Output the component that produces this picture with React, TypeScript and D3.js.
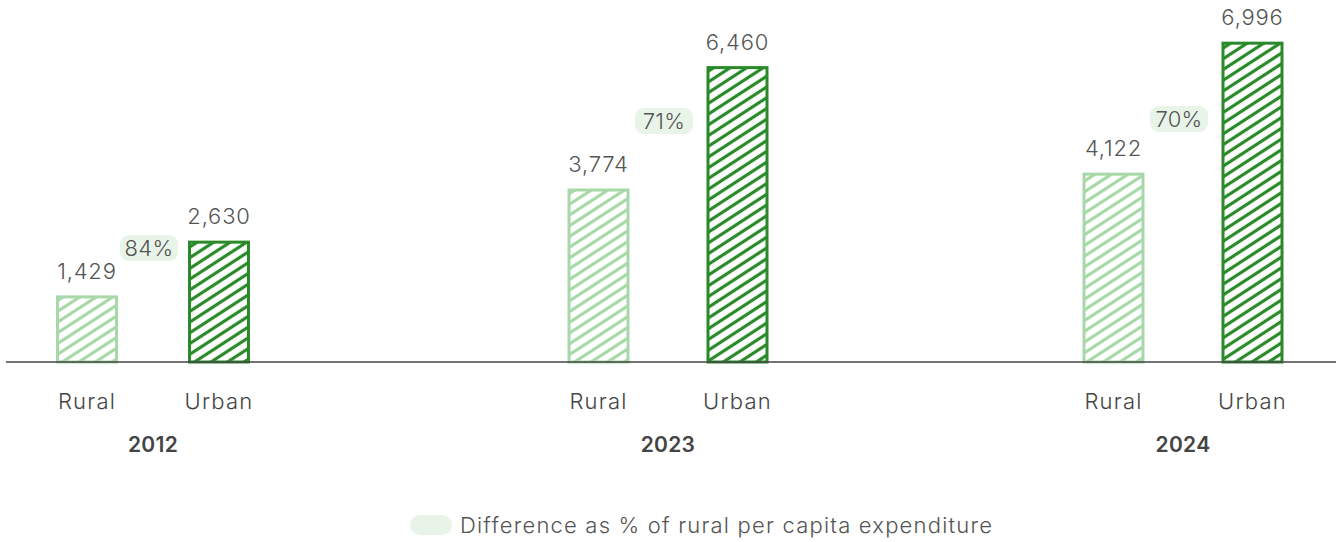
import React from "react";
import * as d3 from "d3";

const years = ["2012", "2023", "2024"];
const areas = ["Rural", "Urban"];
const ruralValues = [1429, 3774, 4122];
const urbanValues = [2630, 6460, 6996];
const diffLabels = ["84%", "71%", "70%"];
const diffLevels = [2500, 5290, 5330];
const legendLabel = "Difference as % of rural per capita expenditure";

const W = 1338;
const H = 542;
const FONT = "Inter, 'Open Sans', sans-serif";

export default function App() {
  const baseY = 362;
  const y = d3.scaleLinear().domain([0, 7000]).range([baseY, baseY - 319]);
  const groupCenters = d3.scalePoint<string>().domain(years).range([153, 1183]);
  const barW = 59;
  const groupGap = [66, 69.5, 69.5];
  const fmt = d3.format(",");

  return (
    <svg width={W} height={H} style={{ position: "absolute", left: 0, top: 0, fontFamily: FONT }}>
      <defs>
        <pattern id="hatchR" patternUnits="userSpaceOnUse" width="9" height="9" patternTransform="rotate(-33)">
          <rect width="9" height="9" fill="#fff" />
          <line x1="0" y1="4.5" x2="9" y2="4.5" stroke="#a8d8aa" strokeWidth="3.2" />
        </pattern>
        <pattern id="hatchU" patternUnits="userSpaceOnUse" width="9" height="9" patternTransform="rotate(-33)">
          <rect width="9" height="9" fill="#fff" />
          <line x1="0" y1="4.5" x2="9" y2="4.5" stroke="#2a8a2a" strokeWidth="3.2" />
        </pattern>
      </defs>
      {years.map((yr, i) => {
        const c = groupCenters(yr)!;
        const half = groupGap[i];
        const rx = c - half;
        const ux = c + half;
        const rv = ruralValues[i];
        const uv = urbanValues[i];
        const pillY = y(diffLevels[i]);
        return (
          <g key={yr}>
            <rect x={rx - barW / 2} y={y(rv)} width={barW} height={baseY - y(rv)} fill="url(#hatchR)" stroke="#a8d8aa" strokeWidth={3} />
            <rect x={ux - barW / 2} y={y(uv)} width={barW} height={baseY - y(uv)} fill="url(#hatchU)" stroke="#2a8a2a" strokeWidth={3} />
            <text x={rx} y={y(rv) - 18} textAnchor="middle" fontSize={22} fill="#555" fontWeight={300} letterSpacing={0.8}>
              {fmt(rv)}
            </text>
            <text x={ux} y={y(uv) - 18} textAnchor="middle" fontSize={22} fill="#555" fontWeight={300} letterSpacing={0.8}>
              {fmt(uv)}
            </text>
            <rect x={c - 4 - 29} y={pillY - 13} width={58} height={26} rx={9} fill="#e8f4e8" />
            <text x={c - 4} y={pillY + 8} textAnchor="middle" fontSize={22} fill="#555" fontWeight={300} letterSpacing={0.3}>
              {diffLabels[i]}
            </text>
            <text x={rx} y={409} textAnchor="middle" fontSize={22} fill="#444" fontWeight={300} letterSpacing={1.2}>
              {areas[0]}
            </text>
            <text x={ux} y={409} textAnchor="middle" fontSize={22} fill="#444" fontWeight={300} letterSpacing={1.2}>
              {areas[1]}
            </text>
            <text x={c} y={452} textAnchor="middle" fontSize={21} fill="#444" fontWeight={600} letterSpacing={0.3}>
              {yr}
            </text>
          </g>
        );
      })}
      <line x1={6} x2={1336} y1={baseY} y2={baseY} stroke="#444" strokeWidth={1.5} />
      <rect x={410} y={515} width={42} height={20} rx={10} fill="#e8f4e8" />
      <text x={460} y={533} fontSize={22} fill="#555" fontWeight={300} letterSpacing={1.2}>
        {legendLabel}
      </text>
    </svg>
  );
}
